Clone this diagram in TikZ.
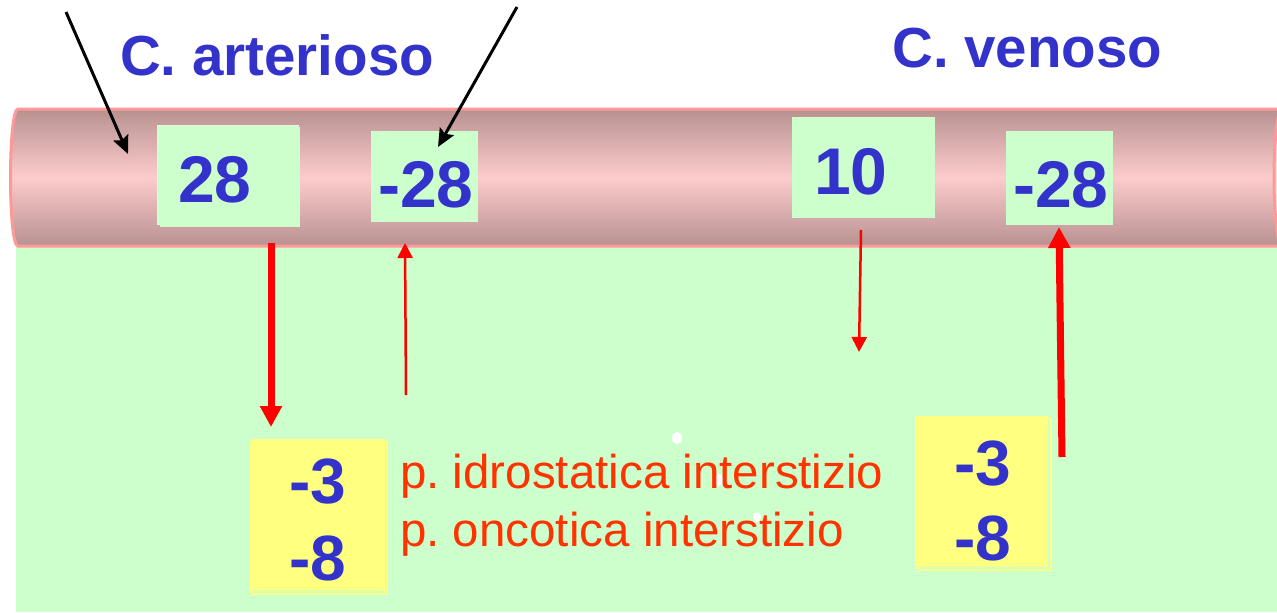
\documentclass[tikz,border=0pt]{standalone}
\usepackage{fontspec}
\setmainfont{Liberation Sans}
\usetikzlibrary{arrows.meta}
\definecolor{bluetxt}{HTML}{3333CC}
\definecolor{redtxt}{HTML}{FF3300}
\definecolor{gbg}{HTML}{CCFFCC}
\definecolor{gedge}{HTML}{E2F8DA}
\definecolor{yel}{HTML}{FFFF80}
\definecolor{tubedark}{RGB}{184,144,144}
\definecolor{tubelight}{RGB}{252,204,204}
\definecolor{tubeline}{HTML}{FF9999}
\definecolor{capfill}{HTML}{FCDCDC}
\frenchspacing
\begin{document}
\begin{tikzpicture}[x=1pt,y=-1pt,
  title/.style={font=\fontsize{56.5}{60}\selectfont\bfseries, text=bluetxt, inner sep=0pt, anchor=base west},
  num/.style={font=\fontsize{66}{70}\selectfont\bfseries, text=bluetxt, inner sep=0pt, anchor=base west},
  ynum/.style={font=\fontsize{64}{68}\selectfont\bfseries, text=bluetxt, inner sep=0pt, anchor=base west},
  lbl/.style={font=\fontsize{47.5}{50}\selectfont, text=redtxt, inner sep=0pt, anchor=base west},
  gbox/.style={rectangle, fill=gbg, draw=none, inner sep=0pt},
  gshadow/.style={rectangle, fill=gbg, draw=gedge, line width=1pt, inner sep=0pt},
  ybox/.style={rectangle, fill=yel, draw=none, inner sep=0pt},
  yshadow/.style={rectangle, fill=none, draw=yel, line width=1.5pt, inner sep=0pt},
  blk/.style={draw=black, line width=3pt, -{Stealth[length=18pt,width=16pt,inset=3pt]}},
  rthick/.style={draw=red, line width=7pt, -{Triangle[length=21pt,width=21pt]}},
  rthin/.style={draw=red, line width=2.5pt, -{Triangle[length=15pt,width=15pt]}},
  dot/.style={fill=white}
]
\useasboundingbox (0,0) rectangle (1277,613);
\clip (0,0) rectangle (1277,613);
\fill[white] (0,0) rectangle (1277,613);
% interstitium
\fill[gbg] (16,246) rectangle (1277,612);
% vessel
\shade[top color=tubedark, bottom color=tubedark, middle color=tubelight, draw=tubeline, line width=3pt]
  (18,109) -- (1295,109) -- (1295,246) -- (18,246) .. controls (8,246) and (8,109) .. (18,109) -- cycle;
\filldraw[fill=capfill, draw=tubeline, line width=3pt] (1282,177.5) ellipse [x radius=8, y radius=68.5];
% titles
\node[title] (tart) at (120,75) {C. arterioso};
\node[title] (tven) at (892,67) {C. venoso};
% green boxes
\node[gshadow, minimum width=141pt, minimum height=99pt] (b28s) at (227.5,174.5) {};
\node[gbox, minimum width=140pt, minimum height=100pt] (b28) at (230,177) {};
\node[gbox, minimum width=107pt, minimum height=91pt] (bm28a) at (424.5,176.5) {};
\node[gbox, minimum width=143pt, minimum height=101pt] (b10) at (863.5,167.5) {};
\node[gbox, minimum width=107pt, minimum height=94pt] (bm28v) at (1059.5,178) {};
\node[num] (t28) at (178,202) {28};
\node[num] (tm28a) at (378,207) {-28};
\node[num] (t10) at (814,194) {10};
\node[num] (tm28v) at (1013,207) {-28};
% yellow boxes
\node[yshadow, minimum width=136pt, minimum height=152pt] (yls) at (319,518) {};
\node[ybox, minimum width=134pt, minimum height=152pt] (yl) at (318,515) {};
\node[yshadow, minimum width=133pt, minimum height=151pt] (yrs) at (984.5,494.5) {};
\node[ybox, minimum width=133pt, minimum height=151pt] (yr) at (981.5,491.5) {};
\node[ynum] (yl3) at (289,503) {-3};
\node[ynum] (yl8) at (289,580) {-8};
\node[ynum] (yr3) at (954,485) {-3};
\node[ynum] (yr8) at (954,560) {-8};
% white dots
\fill[dot] (677,438) ellipse [x radius=5, y radius=6];
\fill[dot] (719,480) ellipse [x radius=4, y radius=6];
\fill[dot] (757,517) ellipse [x radius=4, y radius=5];
% labels
\node[lbl] (lid) at (400,488) {p. idrostatica interstizio};
\node[lbl] (lon) at (400,546) {p. oncotica interstizio};
% arrows
\coordinate (k1s) at (66,12);
\coordinate (k1e) at (128,154);
\coordinate (k2s) at (517,7);
\coordinate (k2e) at (438,147);
\draw[blk] (k1s) -- (k1e);
\draw[blk] (k2s) -- (k2e);
\coordinate (r1s) at (271,243);
\coordinate (r1e) at (271,427);
\coordinate (r2s) at (406,395);
\coordinate (r2e) at (405,243);
\coordinate (r3s) at (861,230);
\coordinate (r3e) at (859,352);
\coordinate (r4s) at (1062,457);
\coordinate (r4e) at (1059,227);
\draw[rthick] (r1s) -- (r1e);
\draw[rthin] (r2s) -- (r2e);
\draw[rthin] (r3s) -- (r3e);
\draw[rthick] (r4s) -- (r4e);
\end{tikzpicture}
\end{document}
